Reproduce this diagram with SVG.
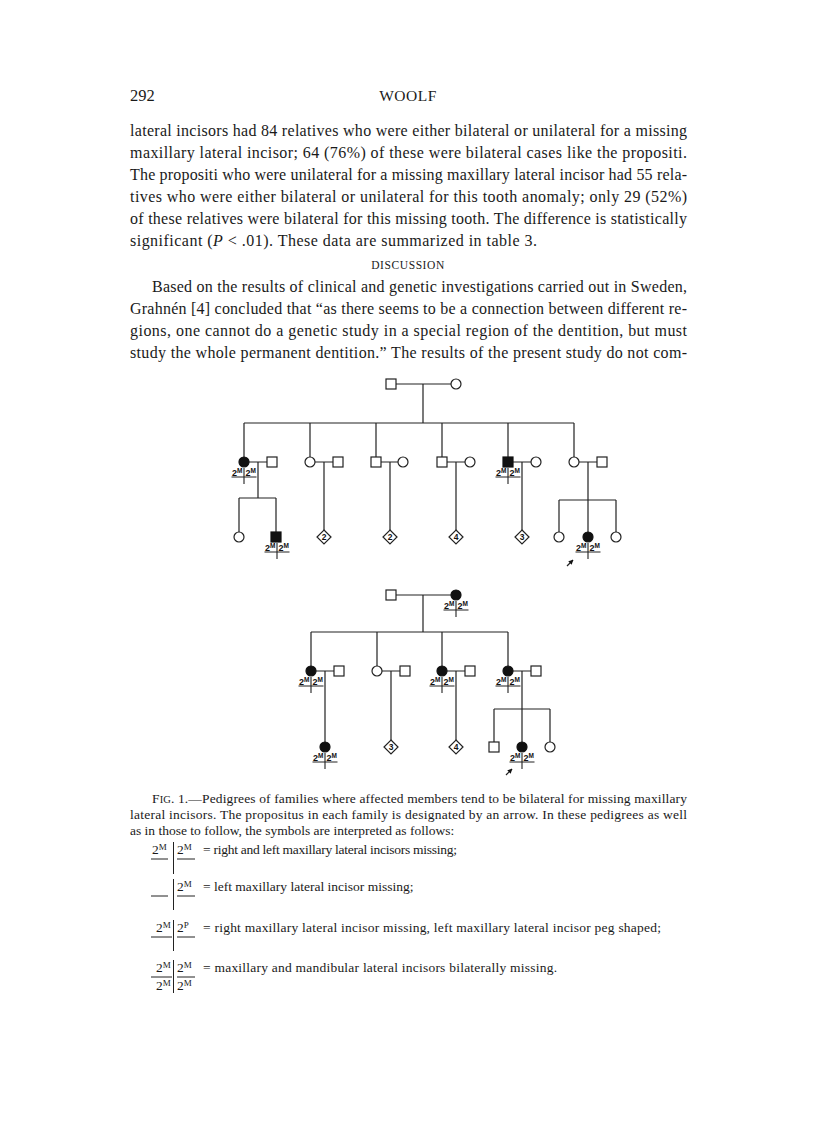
<svg xmlns="http://www.w3.org/2000/svg" width="816" height="1122" viewBox="0 0 816 1122">
<style>
.t{font-family:"Liberation Serif","Times New Roman",serif;fill:#1a1a1a}
.b{font-size:16px}
.c{font-size:13.5px}
.ln{stroke:#222;stroke-width:1.2;fill:none}
.sq{fill:#fff;stroke:#222;stroke-width:1.2}
.f{fill:#111;stroke:#111;stroke-width:1.2}
.lb text{font-family:"Liberation Sans",Arial,sans-serif;font-size:9px;font-weight:bold;fill:#111}
.lb .s{font-size:6.5px}
.lb path{stroke:#222;stroke-width:1.1;fill:none}
.dm text{font-family:"Liberation Sans",Arial,sans-serif;font-size:8.5px;font-weight:bold;fill:#111;text-anchor:middle}
.lg text{font-family:"Liberation Serif","Times New Roman",serif;font-size:13.5px;fill:#1a1a1a}
.lg .s{font-size:9px}
.lg path{stroke:#222;stroke-width:1;fill:none}
</style>
<defs>
<marker id="ah" viewBox="0 0 10 10" refX="9" refY="5" markerWidth="4" markerHeight="4" orient="auto"><path d="M0 0L10 5L0 10z" fill="#111"/></marker>
</defs>
<rect width="816" height="1122" fill="#fff"/>

<g id="header" class="t">
<text x="130" y="101" font-size="16.5">292</text>
<text x="408" y="101" font-size="15.5" text-anchor="middle" letter-spacing="0.5">WOOLF</text>
</g>

<g id="body" class="t b">
<text x="130" y="136" textLength="557" lengthAdjust="spacing">lateral incisors had 84 relatives who were either bilateral or unilateral for a missing</text>
<text x="130" y="158" textLength="557" lengthAdjust="spacing">maxillary lateral incisor; 64 (76%) of these were bilateral cases like the propositi.</text>
<text x="130" y="180" textLength="557" lengthAdjust="spacing">The propositi who were unilateral for a missing maxillary lateral incisor had 55 rela-</text>
<text x="130" y="202" textLength="557" lengthAdjust="spacing">tives who were either bilateral or unilateral for this tooth anomaly; only 29 (52%)</text>
<text x="130" y="224" textLength="557" lengthAdjust="spacing">of these relatives were bilateral for this missing tooth. The difference is statistically</text>
<text x="130" y="246" textLength="407" lengthAdjust="spacing">significant (<tspan font-style="italic">P</tspan> &lt; .01). These data are summarized in table 3.</text>
<text x="408" y="269" font-size="11.5" text-anchor="middle" letter-spacing="0.6">DISCUSSION</text>
<text x="152" y="292" textLength="535" lengthAdjust="spacing">Based on the results of clinical and genetic investigations carried out in Sweden,</text>
<text x="130" y="314" textLength="557" lengthAdjust="spacing">Grahnén [4] concluded that “as there seems to be a connection between different re-</text>
<text x="130" y="336" textLength="557" lengthAdjust="spacing">gions, one cannot do a genetic study in a special region of the dentition, but must</text>
<text x="130" y="358" textLength="557" lengthAdjust="spacing">study the whole permanent dentition.” The results of the present study do not com-</text>
</g>

<g id="connectors" class="ln">
<path d="M396 384H451M423 384V423M244 423H574M244 423V457M310 423V457M376 423V457M442 423V457M508 423V457M574 423V457"/>
<path d="M249 462H267M258 462V498M239 498H276M239 498V532M276 498V532"/>
<path d="M315 462H333M324 462V530"/>
<path d="M381 462H398M390 462V530"/>
<path d="M447 462H465M456 462V530"/>
<path d="M513 462H531M522 462V530"/>
<path d="M579 462H597M588 462V500M559 500H616M559 500V532M588 500V532M616 500V532"/>
<path d="M396 595H451M423 595V632M311 632H508M311 632V666M377 632V666M442 632V666M508 632V666"/>
<path d="M316 671H334M325 671V742"/>
<path d="M382 671H400M391 671V740"/>
<path d="M447 671H465M456 671V740"/>
<path d="M513 671H531M522 671V709M494 709H550M494 709V742M522 709V742M550 709V742"/>
<path d="M567 566L573 560" marker-end="url(#ah)"/>
<path d="M506 775L512 769" marker-end="url(#ah)"/>
</g>

<g id="p1-I-1"><rect class="sq" x="386" y="379" width="10" height="10"/></g>
<g id="p1-I-2"><circle class="sq" cx="456" cy="384" r="5"/></g>

<g id="p1-II-1"><circle class="f" cx="244" cy="462" r="5"/>
<g class="lb" transform="translate(244,462)"><text x="-12" y="13.5">2<tspan class="s" dy="-3">M</tspan></text><text x="1.5" y="13.5">2<tspan class="s" dy="-3">M</tspan></text><path d="M-12.5 15H12.5M0 6V22"/></g></g>
<g id="p1-II-1s"><rect class="sq" x="267" y="457" width="10" height="10"/></g>
<g id="p1-III-1"><circle class="sq" cx="239" cy="537" r="5"/></g>
<g id="p1-III-2"><rect class="f" x="271" y="532" width="10" height="10"/>
<g class="lb" transform="translate(277,537)"><text x="-12" y="13.5">2<tspan class="s" dy="-3">M</tspan></text><text x="1.5" y="13.5">2<tspan class="s" dy="-3">M</tspan></text><path d="M-12.5 15H12.5M0 6V22"/></g></g>

<g id="p1-II-2"><circle class="sq" cx="310" cy="462" r="5"/></g>
<g id="p1-II-2s"><rect class="sq" x="333" y="457" width="10" height="10"/></g>
<g id="p1-III-3" class="dm"><polygon class="sq" points="324,530 331,537 324,544 317,537"/><text x="324" y="540">2</text></g>

<g id="p1-II-3"><rect class="sq" x="371" y="457" width="10" height="10"/></g>
<g id="p1-II-3s"><circle class="sq" cx="403" cy="462" r="5"/></g>
<g id="p1-III-4" class="dm"><polygon class="sq" points="390,530 397,537 390,544 383,537"/><text x="390" y="540">2</text></g>

<g id="p1-II-4"><rect class="sq" x="437" y="457" width="10" height="10"/></g>
<g id="p1-II-4s"><circle class="sq" cx="470" cy="462" r="5"/></g>
<g id="p1-III-5" class="dm"><polygon class="sq" points="456,530 463,537 456,544 449,537"/><text x="456" y="540">4</text></g>

<g id="p1-II-5"><rect class="f" x="503" y="457" width="10" height="10"/>
<g class="lb" transform="translate(508,462)"><text x="-12" y="13.5">2<tspan class="s" dy="-3">M</tspan></text><text x="1.5" y="13.5">2<tspan class="s" dy="-3">M</tspan></text><path d="M-12.5 15H12.5M0 6V22"/></g></g>
<g id="p1-II-5s"><circle class="sq" cx="536" cy="462" r="5"/></g>
<g id="p1-III-6" class="dm"><polygon class="sq" points="522,530 529,537 522,544 515,537"/><text x="522" y="540">3</text></g>

<g id="p1-II-6"><circle class="sq" cx="574" cy="462" r="5"/></g>
<g id="p1-II-6s"><rect class="sq" x="597" y="457" width="10" height="10"/></g>
<g id="p1-III-7"><circle class="sq" cx="559" cy="537" r="5"/></g>
<g id="p1-III-8"><circle class="f" cx="588" cy="537" r="5"/>
<g class="lb" transform="translate(588,537)"><text x="-12" y="13.5">2<tspan class="s" dy="-3">M</tspan></text><text x="1.5" y="13.5">2<tspan class="s" dy="-3">M</tspan></text><path d="M-12.5 15H12.5M0 6V22"/></g></g>
<g id="p1-III-9"><circle class="sq" cx="616" cy="537" r="5"/></g>

<g id="p2-I-1"><rect class="sq" x="386" y="590" width="10" height="10"/></g>
<g id="p2-I-2"><circle class="f" cx="456" cy="595" r="5"/>
<g class="lb" transform="translate(456,595)"><text x="-12" y="13.5">2<tspan class="s" dy="-3">M</tspan></text><text x="1.5" y="13.5">2<tspan class="s" dy="-3">M</tspan></text><path d="M-12.5 15H12.5M0 6V22"/></g></g>

<g id="p2-II-1"><circle class="f" cx="311" cy="671" r="5"/>
<g class="lb" transform="translate(311,671)"><text x="-12" y="13.5">2<tspan class="s" dy="-3">M</tspan></text><text x="1.5" y="13.5">2<tspan class="s" dy="-3">M</tspan></text><path d="M-12.5 15H12.5M0 6V22"/></g></g>
<g id="p2-II-1s"><rect class="sq" x="334" y="666" width="10" height="10"/></g>
<g id="p2-III-1"><circle class="f" cx="325" cy="747" r="5"/>
<g class="lb" transform="translate(325,747)"><text x="-12" y="13.5">2<tspan class="s" dy="-3">M</tspan></text><text x="1.5" y="13.5">2<tspan class="s" dy="-3">M</tspan></text><path d="M-12.5 15H12.5M0 6V22"/></g></g>

<g id="p2-II-2"><circle class="sq" cx="377" cy="671" r="5"/></g>
<g id="p2-II-2s"><rect class="sq" x="400" y="666" width="10" height="10"/></g>
<g id="p2-III-2" class="dm"><polygon class="sq" points="391,740 398,747 391,754 384,747"/><text x="391" y="750">3</text></g>

<g id="p2-II-3"><circle class="f" cx="442" cy="671" r="5"/>
<g class="lb" transform="translate(442,671)"><text x="-12" y="13.5">2<tspan class="s" dy="-3">M</tspan></text><text x="1.5" y="13.5">2<tspan class="s" dy="-3">M</tspan></text><path d="M-12.5 15H12.5M0 6V22"/></g></g>
<g id="p2-II-3s"><rect class="sq" x="465" y="666" width="10" height="10"/></g>
<g id="p2-III-3" class="dm"><polygon class="sq" points="456,740 463,747 456,754 449,747"/><text x="456" y="750">4</text></g>

<g id="p2-II-4"><circle class="f" cx="508" cy="671" r="5"/>
<g class="lb" transform="translate(508,671)"><text x="-12" y="13.5">2<tspan class="s" dy="-3">M</tspan></text><text x="1.5" y="13.5">2<tspan class="s" dy="-3">M</tspan></text><path d="M-12.5 15H12.5M0 6V22"/></g></g>
<g id="p2-II-4s"><rect class="sq" x="531" y="666" width="10" height="10"/></g>
<g id="p2-III-4"><rect class="sq" x="489" y="742" width="10" height="10"/></g>
<g id="p2-III-5"><circle class="f" cx="522" cy="747" r="5"/>
<g class="lb" transform="translate(522,747)"><text x="-12" y="13.5">2<tspan class="s" dy="-3">M</tspan></text><text x="1.5" y="13.5">2<tspan class="s" dy="-3">M</tspan></text><path d="M-12.5 15H12.5M0 6V22"/></g></g>
<g id="p2-III-6"><circle class="sq" cx="550" cy="747" r="5"/></g>

<g id="caption" class="t c">
<text x="152" y="803" textLength="535" lengthAdjust="spacing">F<tspan font-size="10.5">IG</tspan>. 1.—Pedigrees of families where affected members tend to be bilateral for missing maxillary</text>
<text x="130" y="819" textLength="557" lengthAdjust="spacing">lateral incisors. The propositus in each family is designated by an arrow. In these pedigrees as well</text>
<text x="130" y="835">as in those to follow, the symbols are interpreted as follows:</text>
</g>

<g id="legend" class="lg">
<g id="legend-1">
<text x="152" y="854">2<tspan class="s" dy="-4">M</tspan></text>
<text x="177" y="854">2<tspan class="s" dy="-4">M</tspan></text>
<path d="M151 859H168M177 859H195M173.5 842V874"/>
<text x="203" y="854" textLength="254" lengthAdjust="spacing">= right and left maxillary lateral incisors missing;</text>
</g>
<g id="legend-2">
<text x="177" y="891">2<tspan class="s" dy="-4">M</tspan></text>
<path d="M151 896H168M177 896H195M173.5 879V910"/>
<text x="203" y="891">= left maxillary lateral incisor missing;</text>
</g>
<g id="legend-3">
<text x="156" y="932">2<tspan class="s" dy="-4">M</tspan></text>
<text x="177" y="932">2<tspan class="s" dy="-4">P</tspan></text>
<path d="M151 937H172M177 937H195M173.5 920V951"/>
<text x="203" y="932" textLength="458" lengthAdjust="spacing">= right maxillary lateral incisor missing, left maxillary lateral incisor peg shaped;</text>
</g>
<g id="legend-4">
<text x="156" y="972">2<tspan class="s" dy="-4">M</tspan></text>
<text x="177" y="972">2<tspan class="s" dy="-4">M</tspan></text>
<text x="156" y="990">2<tspan class="s" dy="-4">M</tspan></text>
<text x="177" y="990">2<tspan class="s" dy="-4">M</tspan></text>
<path d="M151 977H172M177 977H195M173.5 960V993"/>
<text x="203" y="972" textLength="354" lengthAdjust="spacing">= maxillary and mandibular lateral incisors bilaterally missing.</text>
</g>
</g>
</svg>
